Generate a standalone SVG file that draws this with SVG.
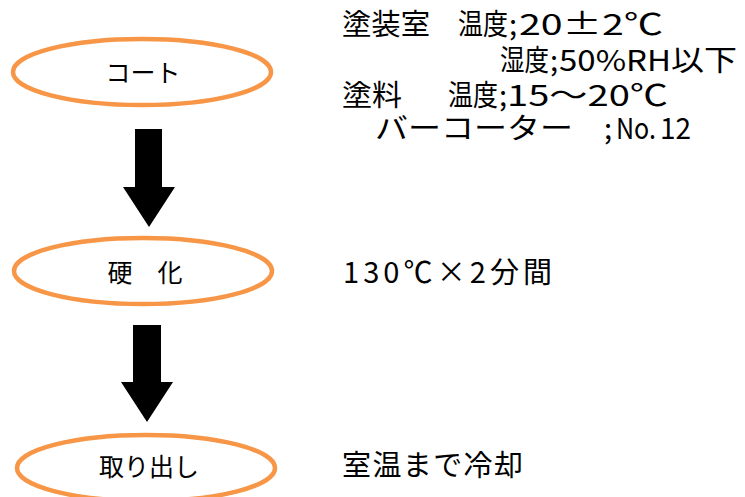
<svg xmlns="http://www.w3.org/2000/svg" width="745" height="497" viewBox="0 0 745 497">
<style>
.node ellipse{fill:#fff;stroke:#F79646;stroke-width:4.5}
.lbl{font-family:"Noto Sans CJK JP","Noto Sans",sans-serif;font-size:25px;fill:#000;text-anchor:middle}
.t{font-family:"Noto Sans CJK JP","Noto Sans",sans-serif;font-size:29px;fill:#000}
.arrow{fill:#000}
</style>
<rect width="745" height="497" fill="#fff"/>
<g id="connectors">
<polygon class="arrow" points="135,129 162,129 162,187 175,187 149,227 123,187 135,187"/>
<polygon class="arrow" points="133,325 161,325 161,382 173,382 147,422 121,382 133,382"/>
</g>
<g id="node-coat" class="node">
<ellipse cx="142" cy="72" rx="129" ry="33"/>
<text class="lbl" x="143" y="82">コート</text>
</g>
<g id="node-cure" class="node">
<ellipse cx="143" cy="271" rx="129" ry="33"/>
<text class="lbl" x="145" y="282">硬　化</text>
</g>
<g id="node-remove" class="node">
<ellipse cx="146" cy="468" rx="129" ry="33"/>
<text class="lbl" x="149" y="476">取り出し</text>
</g>
<g id="notes">
<text class="t" x="342" y="35" textLength="88" lengthAdjust="spacingAndGlyphs">塗装室</text>
<text class="t" x="458" y="35" textLength="50" lengthAdjust="spacingAndGlyphs">温度</text>
<text class="t" x="509" y="35">;</text>
<text class="t" x="519" y="35" textLength="144" lengthAdjust="spacingAndGlyphs">20±2℃</text>
<text class="t" x="500" y="71" textLength="49" lengthAdjust="spacingAndGlyphs">湿度</text>
<text class="t" x="550" y="71">;</text>
<text class="t" x="559" y="71" textLength="178" lengthAdjust="spacingAndGlyphs">50%RH以下</text>
<text class="t" x="342" y="106" textLength="60" lengthAdjust="spacingAndGlyphs">塗料</text>
<text class="t" x="448" y="106" textLength="50" lengthAdjust="spacingAndGlyphs">温度</text>
<text class="t" x="499" y="106">;</text>
<text class="t" x="507" y="106" textLength="161" lengthAdjust="spacingAndGlyphs">15～20℃</text>
<text class="t" x="375" y="139" textLength="198" lengthAdjust="spacingAndGlyphs">バーコーター</text>
<text class="t" x="604" y="139">;</text>
<text class="t" x="616" y="139" textLength="40" lengthAdjust="spacingAndGlyphs">No.</text>
<text class="t" x="660" y="139" textLength="31" lengthAdjust="spacingAndGlyphs">12</text>
<text class="t" x="343" y="283" textLength="209" lengthAdjust="spacing">130℃×2分間</text>
<text class="t" x="342" y="476" textLength="181" lengthAdjust="spacing">室温まで冷却</text>
</g>
</svg>
